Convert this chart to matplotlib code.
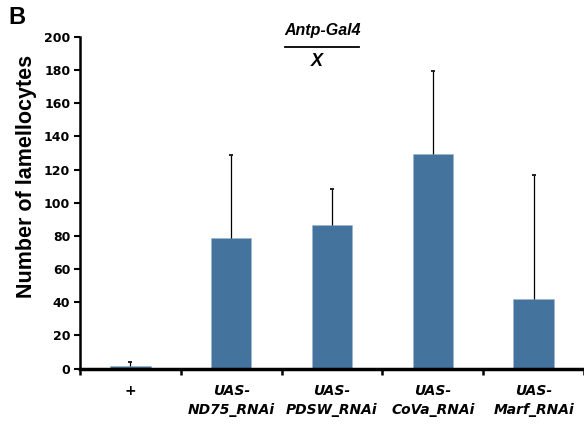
import matplotlib
matplotlib.use("Agg")
import matplotlib.pyplot as plt
import numpy as np

categories = ["+", "UAS-\nND75_RNAi", "UAS-\nPDSW_RNAi", "UAS-\nCoVa_RNAi", "UAS-\nMarf_RNAi"]
values = [1.5, 79, 86.5, 129.5, 42]
errors = [2.5, 50, 21.5, 50, 75]
yticks = [0, 20, 40, 60, 80, 100, 120, 140, 160, 180, 200]

fig = plt.figure(figsize=(5.84, 4.25), dpi=100)
ax = fig.add_axes([80/584, 1-368.5/425, 504/584, (368.5-37)/425])

x = np.arange(len(categories))
ax.bar(x, values, width=0.4, color="#44739e", edgecolor="#9bb5cf", linewidth=0.4, zorder=2)
eb = ax.errorbar(x, values, yerr=[np.zeros(len(errors)), errors], fmt="none",
                 ecolor="black", elinewidth=0.9, capsize=1.5, capthick=1.2, zorder=3)
eb[1][0].set_visible(False)

ax.set_xlim(-0.5, len(categories) - 0.5)
ax.set_ylim(0, 200)
ax.set_yticks(yticks)
ax.set_yticklabels([str(t) for t in yticks], fontfamily="DejaVu Sans", fontweight="bold", fontsize=9)
ax.set_xticks(np.arange(len(categories) + 1) - 0.5)
ax.set_xticklabels([])
ax.set_xticks(x, minor=True)
ax.set_xticklabels(categories, minor=True, fontfamily="DejaVu Sans", fontweight="bold",
                   fontstyle="italic", fontsize=10, linespacing=1.45)
ax.tick_params(axis="x", which="minor", length=0, pad=11)
ax.tick_params(axis="x", which="major", length=4, width=1.8, direction="out")
ax.tick_params(axis="y", length=4, width=1.5, direction="out", pad=3)

for s in ["top", "right"]:
    ax.spines[s].set_visible(False)
ax.spines["left"].set_linewidth(1.8)
ax.spines["bottom"].set_linewidth(2.5)

ax.set_ylabel("Number of lamellocytes", fontfamily="Liberation Sans", fontweight="bold",
              fontsize=15.5)
ax.yaxis.set_label_coords(-0.085, 0.58)

fig.text(0.014, 1-18/425, "B", fontfamily="Liberation Sans", fontweight="bold", fontsize=17,
         va="center", ha="left")
fig.text(323/584, 1-31/425, "Antp-Gal4", fontfamily="Liberation Sans", fontweight="bold",
         fontstyle="italic", fontsize=11.5, ha="center", va="center")
fig.add_artist(plt.Line2D([285/584, 359/584], [1-47/425, 1-47/425], color="black", lw=1.3,
                          transform=fig.transFigure))
fig.text(317/584, 1-61/425, "X", fontfamily="Liberation Sans", fontweight="bold",
         fontstyle="italic", fontsize=13, ha="center", va="center")

fig.savefig("out.png", dpi=100)
